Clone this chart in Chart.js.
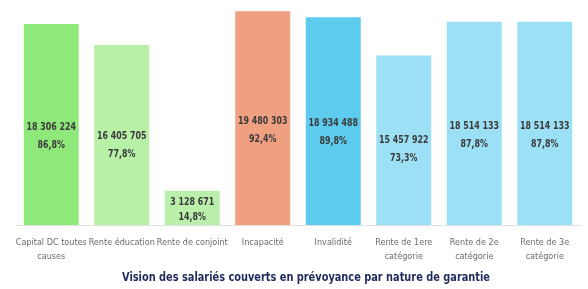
<!DOCTYPE html>
<html>
<head>
<meta charset="utf-8">
<script src="https://cdn.jsdelivr.net/npm/chart.js@4"></script>
<style>
  html, body { margin: 0; padding: 0; background: #fff; }
  #wrap { width: 588px; height: 289px; }
</style>
</head>
<body>
<div id="wrap"><canvas id="chart" width="588" height="289"></canvas></div>
<script>
const categories = [
  ["Capital DC toutes", "causes"],
  "Rente éducation",
  "Rente de conjoint",
  "Incapacité",
  "Invalidité",
  ["Rente de 1ere", "catégorie"],
  ["Rente de 2e", "catégorie"],
  ["Rente de 3e", "catégorie"]
];
const salaries = [18306224, 16405705, 3128671, 19480303, 18934488, 15457922, 18514133, 18514133];
const percents = ["86,8%", "77,8%", "14,8%", "92,4%", "89,8%", "73,3%", "87,8%", "87,8%"];
const colors = ['#8FE87A', '#B8F0A8', '#BAF0AB', '#EFA080', '#5DCBEE', '#9BE0F5', '#9BE0F5', '#9BE0F5'];
const titleText = 'Vision des salariés couverts en prévoyance par nature de garantie';

const fmt = n => String(n).replace(/\B(?=(\d{3})+(?!\d))/g, ' ');

// narrow text: squeeze horizontally around x
function narrowText(ctx, text, x, y, sx) {
  ctx.save();
  ctx.translate(x, y);
  ctx.scale(sx, 1);
  ctx.fillText(text, 0, 0);
  ctx.restore();
}

const barLabels = {
  id: 'barLabels',
  afterDatasetsDraw(chart) {
    const ctx = chart.ctx;
    const meta = chart.getDatasetMeta(0);
    ctx.save();
    ctx.font = 'bold 11px "DejaVu Sans Condensed", sans-serif';
    ctx.fillStyle = '#3b3b3b';
    ctx.textAlign = 'center';
    ctx.textBaseline = 'middle';
    meta.data.forEach((bar, i) => {
      const h = bar.base - bar.y;
      const mid = bar.base - 0.445 * h;
      const gap = h > 60 ? 9 : 7.5;
      narrowText(ctx, fmt(salaries[i]), bar.x, mid - gap, 0.8);
      narrowText(ctx, percents[i], bar.x, mid + gap, 0.8);
    });
    ctx.restore();
  }
};

const bottomTitle = {
  id: 'bottomTitle',
  afterDraw(chart) {
    const ctx = chart.ctx;
    ctx.save();
    ctx.font = 'bold 13px "DejaVu Sans Condensed", sans-serif';
    ctx.fillStyle = '#1F2A5C';
    ctx.textAlign = 'center';
    ctx.textBaseline = 'middle';
    const w = ctx.measureText(titleText).width;
    narrowText(ctx, titleText, 306, 278, 368 / w);
    ctx.restore();
  }
};

new Chart(document.getElementById('chart'), {
  type: 'bar',
  data: {
    labels: categories,
    datasets: [{
      data: salaries,
      backgroundColor: colors,
      borderWidth: 0,
      barPercentage: 0.78,
      categoryPercentage: 1
    }]
  },
  options: {
    responsive: false,
    animation: false,
    events: [],
    layout: { padding: { left: 16, right: 8, top: 0, bottom: 15 } },
    scales: {
      x: {
        grid: { display: false, drawTicks: false },
        border: { display: true, color: '#e2e2e2', width: 1 },
        ticks: {
          color: '#6b6b6b',
          padding: 10,
          maxRotation: 0,
          autoSkip: false,
          font: { family: '"DejaVu Sans Condensed", sans-serif', size: 9, lineHeight: 1.6 }
        }
      },
      y: {
        display: false,
        min: 0,
        max: 20500000
      }
    },
    plugins: {
      legend: { display: false },
      tooltip: { enabled: false },
      title: { display: false }
    }
  },
  plugins: [barLabels, bottomTitle]
});
</script>
</body>
</html>
